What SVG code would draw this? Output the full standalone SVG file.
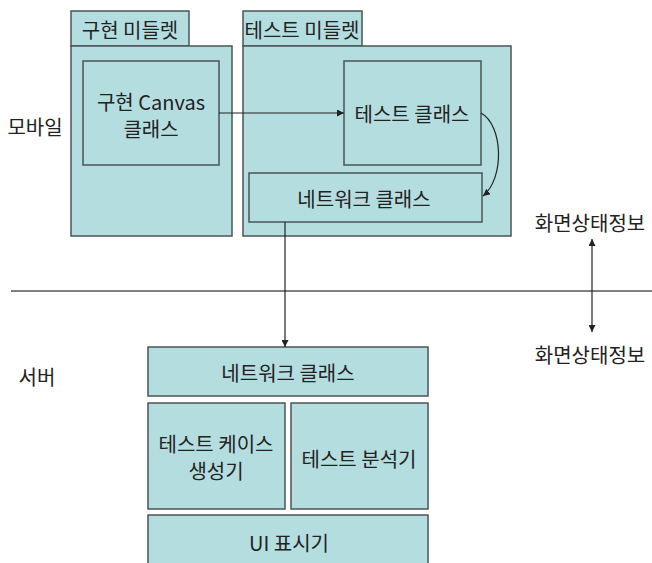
<svg xmlns="http://www.w3.org/2000/svg" width="652" height="563" viewBox="0 0 652 563">
<defs>
<style>
.box{fill:#b4dde0;stroke:#4a5656;stroke-width:1.5}
.t{font-family:"Noto Sans CJK KR","Noto Sans",sans-serif;font-size:20px;fill:#222;text-anchor:middle;dominant-baseline:central}
.ln{stroke:#222;stroke-width:1.2;fill:none}
</style>
<marker id="ah" viewBox="0 0 10 10" refX="10" refY="5" markerWidth="7" markerHeight="7" orient="auto-start-reverse" markerUnits="userSpaceOnUse">
<path d="M0,0 L10,5 L0,10 z" fill="#222"/>
</marker>
</defs>
<rect width="652" height="563" fill="#fff"/>
<text class="t" x="35" y="126">모바일</text>
<text class="t" x="37" y="376">서버</text>
<g id="impl-midlet">
<rect class="box" x="71" y="11" width="118" height="35"/>
<text class="t" x="130" y="29">구현 미들렛</text>
<rect class="box" x="71" y="46" width="161" height="190"/>
</g>
<g id="impl-canvas">
<rect class="box" x="83" y="61" width="136" height="104"/>
<text class="t" x="151" y="101">구현 Canvas</text>
<text class="t" x="151" y="128">클래스</text>
</g>
<g id="test-midlet">
<rect class="box" x="243" y="11" width="119" height="35"/>
<text class="t" x="302" y="29">테스트 미들렛</text>
<rect class="box" x="243" y="46" width="268" height="190"/>
</g>
<g id="test-class">
<rect class="box" x="344" y="61" width="137" height="104"/>
<text class="t" x="412" y="113">테스트 클래스</text>
</g>
<g id="mobile-network">
<rect class="box" x="249" y="173" width="233" height="49"/>
<text class="t" x="364" y="198">네트워크 클래스</text>
</g>
<g id="server-network">
<rect class="box" x="148" y="347" width="280" height="49"/>
<text class="t" x="288" y="372">네트워크 클래스</text>
</g>
<g id="testcase-gen">
<rect class="box" x="148" y="403" width="137" height="106"/>
<text class="t" x="216" y="443">테스트 케이스</text>
<text class="t" x="216" y="470">생성기</text>
</g>
<g id="test-analyzer">
<rect class="box" x="291" y="403" width="137" height="106"/>
<text class="t" x="359" y="458">테스트 분석기</text>
</g>
<g id="ui">
<rect class="box" x="148" y="515" width="280" height="60"/>
<text class="t" x="289" y="542">UI 표시기</text>
</g>
<g id="screen-state">
<text class="t" x="590" y="222">화면상태정보</text>
<text class="t" x="590" y="354">화면상태정보</text>
</g>
<line x1="11" y1="291" x2="652" y2="291" stroke="#555" stroke-width="1.5"/>
<g id="connectors">
<line class="ln" x1="219" y1="113" x2="344" y2="113" marker-end="url(#ah)"/>
<path class="ln" d="M481,113 C503,125 505,178 483,196" marker-end="url(#ah)"/>
<line class="ln" x1="285" y1="222" x2="285" y2="347" marker-end="url(#ah)"/>
<line class="ln" x1="592" y1="239" x2="592" y2="332" marker-start="url(#ah)" marker-end="url(#ah)"/>
</g>
</svg>
